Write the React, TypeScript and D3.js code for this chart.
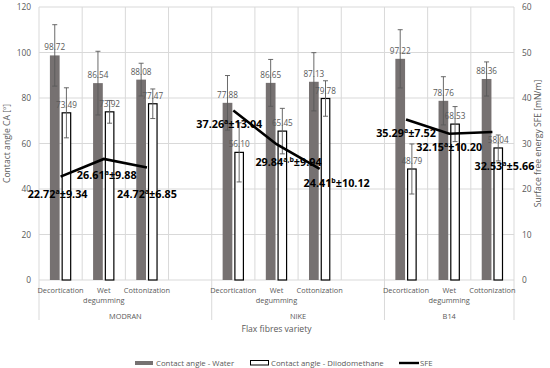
import React from 'react';
import * as d3 from 'd3';

// chart values
const groups = ['MODRAN', 'NIKE', 'B14'];
const treatments = ['Decortication', 'Wet degumming', 'Cottonization'];
const waterCA = [98.72, 86.54, 88.08, 77.88, 86.65, 87.13, 97.22, 78.76, 88.36];
const waterErr = [13.5, 14, 7.2, 12, 10.3, 12.8, 12.8, 10.6, 7.5];
const diioCA = [73.49, 73.92, 77.47, 56.1, 65.45, 79.78, 48.79, 68.53, 58.04];
const diioErr = [11, 5, 6.5, 13, 10, 7.8, 11, 7.7, 5.7];
const sfe = [22.72, 26.61, 24.72, 37.26, 29.84, 24.41, 35.29, 32.15, 32.53];
const sfeErr = [9.34, 9.88, 6.85, 13.04, 9.94, 10.12, 7.52, 10.2, 5.66];
const sfeSup = ['a', 'a', 'a', 'a', 'a,b', 'b', 'a', 'a', 'a'];
const leftTicks = [0, 20, 40, 60, 80, 100, 120];
const rightTicks = [0, 10, 20, 30, 40, 50, 60];

// label placement relative to the SFE point (layout only)
const sfeLabelShift: [number, number][] = [
  [-3, 17], [3, 16], [0, 26], [-4, 14], [12, 18], [17, 14], [0, 14], [0, 13], [12, 34],
];

const W = 550;
const H = 368;
const left = 39;
const right = 514;
const top = 7;
const bottom = 280;
const font = '"Open Sans", "Noto Sans", sans-serif';
const grid = '#d9d9d9';
const textGray = '#595959';
const barGray = '#767171';

const App = () => {
  // 3 treatments + 1 blank slot per group (last group has no blank)
  const slots = d3.range(11);
  const x = d3.scaleBand<number>().domain(slots).range([left, right]).padding(0);
  const bw = x.bandwidth();
  const y = d3.scaleLinear().domain([0, 120]).range([bottom, top]);
  const y2 = d3.scaleLinear().domain([0, 60]).range([bottom, top]);

  const slotOf = (i: number) => Math.floor(i / 3) * 4 + (i % 3);
  const barW = bw * 0.225;
  const gap = bw * 0.045;
  const cx = (i: number) => (x(slotOf(i)) as number) + bw / 2;

  const line = d3
    .line<number>()
    .x((_, k) => k)
    .y(d => d);

  const sfeLines = groups.map((g, gi) => {
    const idx = [0, 1, 2].map(k => gi * 3 + k);
    const gen = d3
      .line<number>()
      .x(i => cx(i))
      .y(i => y2(sfe[i]));
    return gen(idx) as string;
  });
  void line;

  const errBar = (xc: number, v: number, e: number, key: string) => (
    <g key={key} stroke="#595959" strokeWidth={0.9}>
      <line x1={xc} x2={xc} y1={y(v + e)} y2={y(v - e)} />
      <line x1={xc - 2.5} x2={xc + 2.5} y1={y(v + e)} y2={y(v + e)} />
      <line x1={xc - 2.5} x2={xc + 2.5} y1={y(v - e)} y2={y(v - e)} />
    </g>
  );

  const boundaries = d3.range(12).map(k => left + k * bw);
  const groupEdges = [0, 4, 8, 11].map(k => left + k * bw);

  return (
    <svg width={W} height={H} style={{ position: 'absolute', left: 0, top: 0 }} fontFamily={font}>
      <rect width={W} height={H} fill="#fff" />
      {/* gridlines */}
      {leftTicks.map(t => (
        <line key={'h' + t} x1={left} x2={right} y1={y(t)} y2={y(t)} stroke={grid} />
      ))}
      {boundaries.map((b, k) => (
        <line key={'v' + k} x1={b} x2={b} y1={top} y2={bottom} stroke={grid} />
      ))}
      {groupEdges.map((b, k) => (
        <line key={'g' + k} x1={b} x2={b} y1={bottom} y2={320} stroke={grid} />
      ))}

      {/* bars */}
      {waterCA.map((v, i) => (
        <rect key={'w' + i} x={cx(i) - gap / 2 - barW} y={y(v)} width={barW} height={y(0) - y(v)} fill={barGray} />
      ))}
      {diioCA.map((v, i) => (
        <rect
          key={'d' + i}
          x={cx(i) + gap / 2 + 0.6}
          y={y(v)}
          width={barW - 1.2}
          height={y(0) - y(v)}
          fill="#fff"
          stroke="#000"
          strokeWidth={1.2}
        />
      ))}

      {/* bar value labels */}
      {waterCA.map((v, i) => (
        <text key={'wl' + i} x={cx(i) - gap / 2 - barW / 2} y={y(v) - 5} fontSize={8.2} fill={textGray} textAnchor="middle">
          {v.toFixed(2)}
        </text>
      ))}
      {diioCA.map((v, i) => (
        <text key={'dl' + i} x={cx(i) + gap / 2 + barW / 2} y={y(v) - 5} fontSize={8.2} fill={textGray} textAnchor="middle">
          {v.toFixed(2)}
        </text>
      ))}

      {/* error bars */}
      {waterCA.map((v, i) => errBar(cx(i) - gap / 2 - barW / 2, v, waterErr[i], 'we' + i))}
      {diioCA.map((v, i) => errBar(cx(i) + gap / 2 + barW / 2, v, diioErr[i], 'de' + i))}

      {/* SFE line */}
      {sfeLines.map((d, k) => (
        <path key={'s' + k} d={d} fill="none" stroke="#000" strokeWidth={2.6} />
      ))}
      {sfe.map((v, i) => (
        <text
          key={'sl' + i}
          x={cx(i) + sfeLabelShift[i][0]}
          y={y2(v) + sfeLabelShift[i][1] + 4}
          fontSize={10.8}
          fontWeight="bold"
          textAnchor="middle"
          fill="#000"
        >
          {v.toFixed(2)}
          <tspan fontSize={7} dy={-4}>{sfeSup[i]}</tspan>
          <tspan dy={4}>±{sfeErr[i].toFixed(2)}</tspan>
        </text>
      ))}

      {/* left axis */}
      {leftTicks.map(t => (
        <text key={'lt' + t} x={31} y={y(t) + 3} fontSize={8.4} fill={textGray} textAnchor="end">
          {t}
        </text>
      ))}
      {rightTicks.map(t => (
        <text key={'rt' + t} x={522} y={y2(t) + 3} fontSize={8.4} fill={textGray} textAnchor="start">
          {t}
        </text>
      ))}
      <text transform={`translate(10,${(top + bottom) / 2}) rotate(-90)`} fontSize={8.6} fill={textGray} textAnchor="middle">
        Contact angle CA [º]
      </text>
      <text transform={`translate(541,${(top + bottom) / 2}) rotate(-90)`} fontSize={8.6} fill={textGray} textAnchor="middle">
        Surface free energy SFE [mN/m]
      </text>

      {/* category labels */}
      {waterCA.map((_, i) => {
        const words = treatments[i % 3] === 'Wet degumming' ? ['Wet', 'degumming'] : [treatments[i % 3]];
        return (
          <text key={'c' + i} x={cx(i)} fontSize={7.4} fill={textGray} textAnchor="middle">
            {words.map((w, k) => (
              <tspan key={k} x={cx(i)} y={293 + k * 10}>
                {w}
              </tspan>
            ))}
          </text>
        );
      })}
      {groups.map((g, gi) => (
        <text key={g} x={(groupEdges[gi] + groupEdges[gi + 1]) / 2} y={318.5} fontSize={7.4} fill={textGray} textAnchor="middle">
          {g}
        </text>
      ))}
      <text x={(left + right) / 2} y={332} fontSize={8.6} fill={textGray} textAnchor="middle">
        Flax fibres variety
      </text>

      {/* legend */}
      <rect x={135} y={361} width={18} height={4} fill={barGray} />
      <text x={156} y={365.5} fontSize={7.8} fill={textGray}>
        Contact angle - Water
      </text>
      <rect x={250.5} y={360.5} width={18} height={4.5} fill="#fff" stroke="#000" strokeWidth={1} />
      <text x={271} y={365.5} fontSize={7.8} fill={textGray}>
        Contact angle - Diiodomethane
      </text>
      <line x1={399} x2={419} y1={363} y2={363} stroke="#000" strokeWidth={2.4} />
      <text x={420} y={365.5} fontSize={7.8} fill={textGray}>
        SFE
      </text>
    </svg>
  );
};

export default App;
